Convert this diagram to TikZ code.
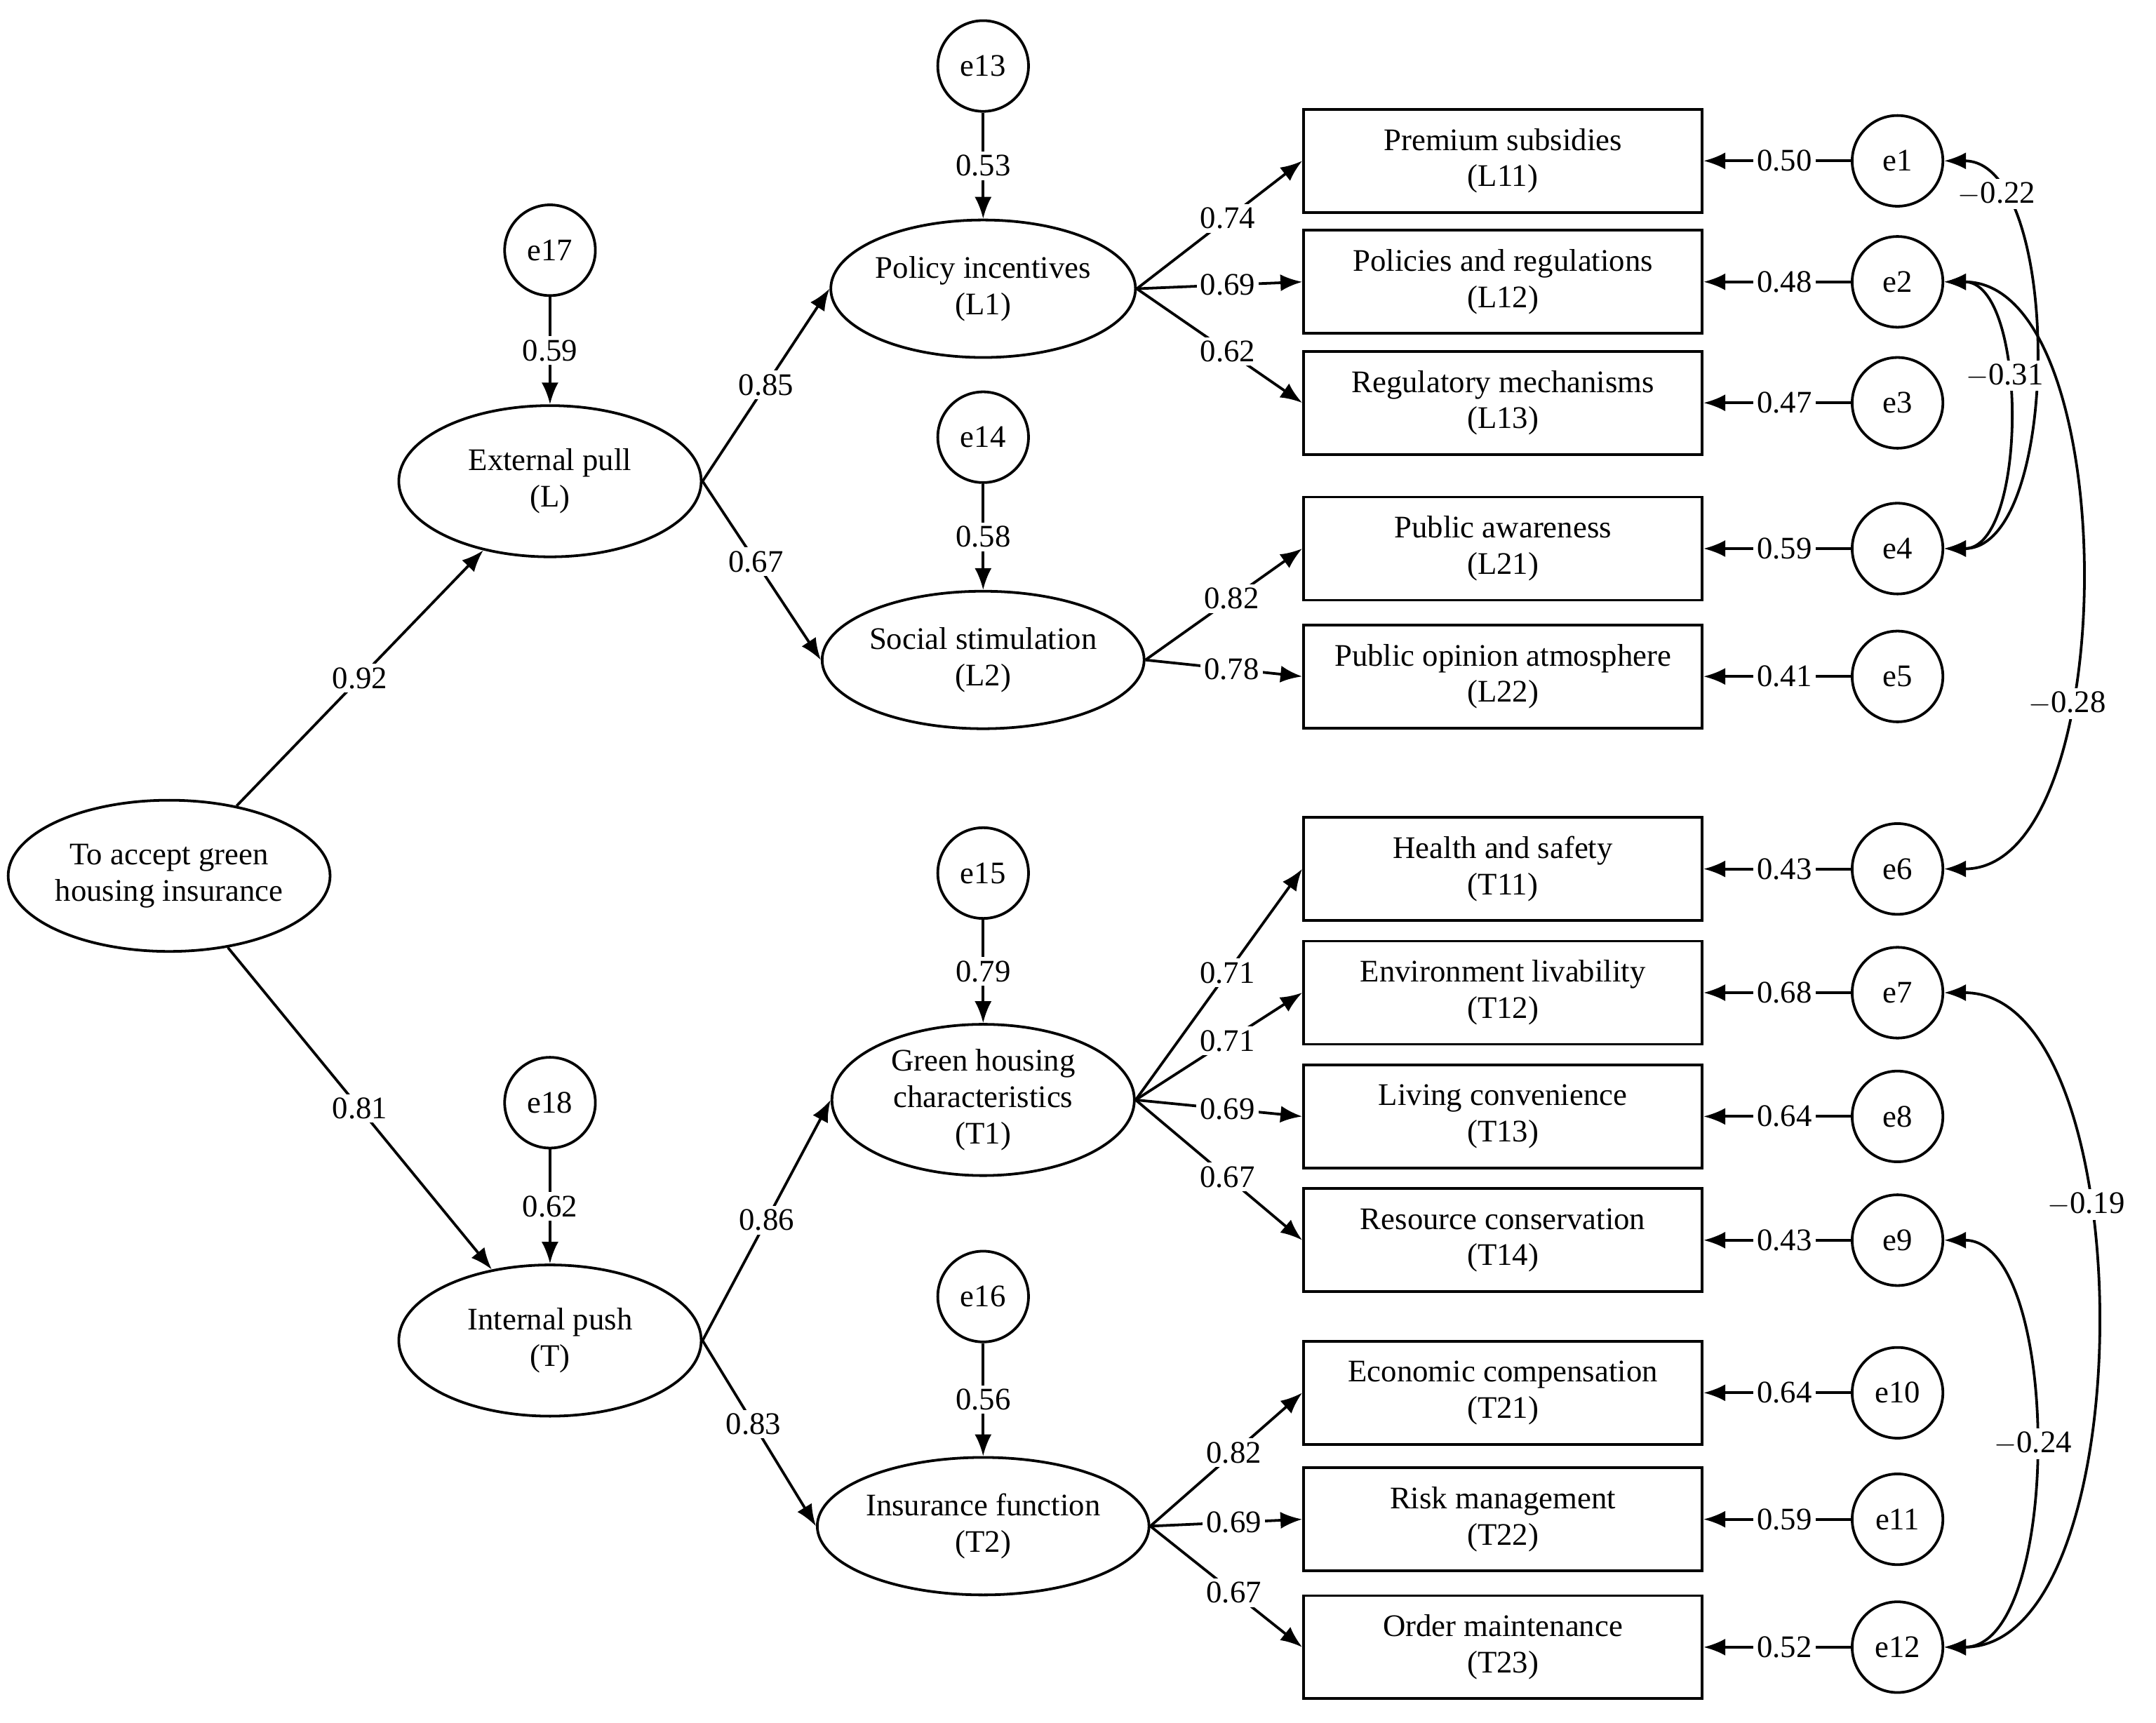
\documentclass[tikz,border=0pt]{standalone}
\usepackage{fontspec}
\setmainfont{Liberation Serif}
\usetikzlibrary{shapes.geometric,arrows.meta}
\begin{document}
\begin{tikzpicture}[x=0.02cm,y=-0.02cm,
  every node/.style={font=\fontsize{13}{15}\selectfont, align=center},
  lat/.style={ellipse, draw, line width=1.1pt, minimum width=4.4cm, minimum height=2.0cm, inner sep=0pt},
  err/.style={circle, draw, line width=1.1pt, minimum size=1.32cm, inner sep=0pt},
  box/.style={rectangle, draw, line width=1.1pt, minimum width=5.8cm, minimum height=1.5cm, inner sep=0pt},
  arr/.style={-{Latex[length=9pt,width=7pt]}, line width=1.1pt},
  cov/.style={{Latex[length=9pt,width=7pt]}-{Latex[length=9pt,width=7pt]}, line width=1.1pt},
  lab/.style={fill=white, inner sep=1.5pt}]
\useasboundingbox (0,0) rectangle (1568,1253);
\node[lat, minimum width=4.45cm, minimum height=2.2cm] (R) at (123,637) {To accept green\\housing insurance};
\node[lat, minimum height=2.2cm] (L) at (400,350) {External pull\\(L)};
\node[lat, minimum height=2.2cm] (T) at (400,975) {Internal push\\(T)};
\node[lat] (L1) at (715,210) {Policy incentives\\(L1)};
\node[lat] (L2) at (715,480) {Social stimulation\\(L2)};
\node[lat, minimum height=2.2cm] (T1) at (715,800) {Green housing\\characteristics\\(T1)};
\node[lat] (T2) at (715,1110) {Insurance function\\(T2)};
\foreach \n/\x/\y in {e13/715/48, e14/715/318, e15/715/635, e16/715/943, e17/400/182, e18/400/802}
  \node[err] (\n) at (\x,\y) {\n};
\foreach \n/\t/\y in {L11/Premium subsidies/117, L12/Policies and regulations/205, L13/Regulatory mechanisms/293,
  L21/Public awareness/399, L22/Public opinion atmosphere/492, T11/Health and safety/632,
  T12/Environment livability/722, T13/Living convenience/812, T14/Resource conservation/902,
  T21/Economic compensation/1013, T22/Risk management/1105, T23/Order maintenance/1198}
  \node[box] (\n) at (1093,\y) {\t\\(\n)};
\foreach \i/\y in {1/117,2/205,3/293,4/399,5/492,6/632,7/722,8/812,9/902,10/1013,11/1105,12/1198}
  \node[err] (e\i) at (1380,\y) {e\i};
% structural
\draw[arr] (R) -- node[lab,pos=0.5] {0.92} (L);
\draw[arr] (R) -- node[lab,pos=0.5] {0.81} (T);
\draw[arr] (L.east) -- node[lab,pos=0.5] {0.85} (L1.west);
\draw[arr] (L.east) -- node[lab,pos=0.45] {0.67} (L2.west);
\draw[arr] (T.east) -- node[lab,pos=0.5] {0.86} (T1.west);
\draw[arr] (T.east) -- node[lab,pos=0.45] {0.83} (T2.west);
\foreach \e/\l/\v in {e13/L1/0.53, e14/L2/0.58, e15/T1/0.79, e16/T2/0.56, e17/L/0.59, e18/T/0.62}
  \draw[arr] (\e) -- node[lab] {\v} (\l);
% loadings
\draw[arr] (L1.east) -- node[lab,pos=0.55] {0.74} (L11.west);
\draw[arr] (L1.east) -- node[lab,pos=0.55] {0.69} (L12.west);
\draw[arr] (L1.east) -- node[lab,pos=0.55] {0.62} (L13.west);
\draw[arr] (L2.east) -- node[lab,pos=0.55] {0.82} (L21.west);
\draw[arr] (L2.east) -- node[lab,pos=0.55] {0.78} (L22.west);
\draw[arr] (T1.east) -- node[lab,pos=0.55] {0.71} (T11.west);
\draw[arr] (T1.east) -- node[lab,pos=0.55] {0.71} (T12.west);
\draw[arr] (T1.east) -- node[lab,pos=0.55] {0.69} (T13.west);
\draw[arr] (T1.east) -- node[lab,pos=0.55] {0.67} (T14.west);
\draw[arr] (T2.east) -- node[lab,pos=0.55] {0.82} (T21.west);
\draw[arr] (T2.east) -- node[lab,pos=0.55] {0.69} (T22.west);
\draw[arr] (T2.east) -- node[lab,pos=0.55] {0.67} (T23.west);
% errors
\foreach \i/\b/\v in {1/L11/0.50,2/L12/0.48,3/L13/0.47,4/L21/0.59,5/L22/0.41,6/T11/0.43,7/T12/0.68,8/T13/0.64,9/T14/0.43,10/T21/0.64,11/T22/0.59,12/T23/0.52}
  \draw[arr] (e\i) -- node[lab,pos=0.45] {\v} (\b);
% covariances
\draw[cov] (e1.east) .. controls (1500,117) and (1500,399) .. node[lab,pos=0.18] {$-$0.22} (e4.east);
\draw[cov] (e2.east) .. controls (1475,205) and (1475,399) .. node[lab,pos=0.4] {$-$0.31} (e4.east);
\draw[cov] (e2.east) .. controls (1545,205) and (1545,632) .. node[lab,pos=0.65] {$-$0.28} (e6.east);
\draw[cov] (e7.east) .. controls (1560,722) and (1560,1198) .. node[lab,pos=0.38] {$-$0.19} (e12.east);
\draw[cov] (e9.east) .. controls (1500,902) and (1500,1198) .. node[lab,pos=0.5] {$-$0.24} (e12.east);
\end{tikzpicture}
\end{document}
